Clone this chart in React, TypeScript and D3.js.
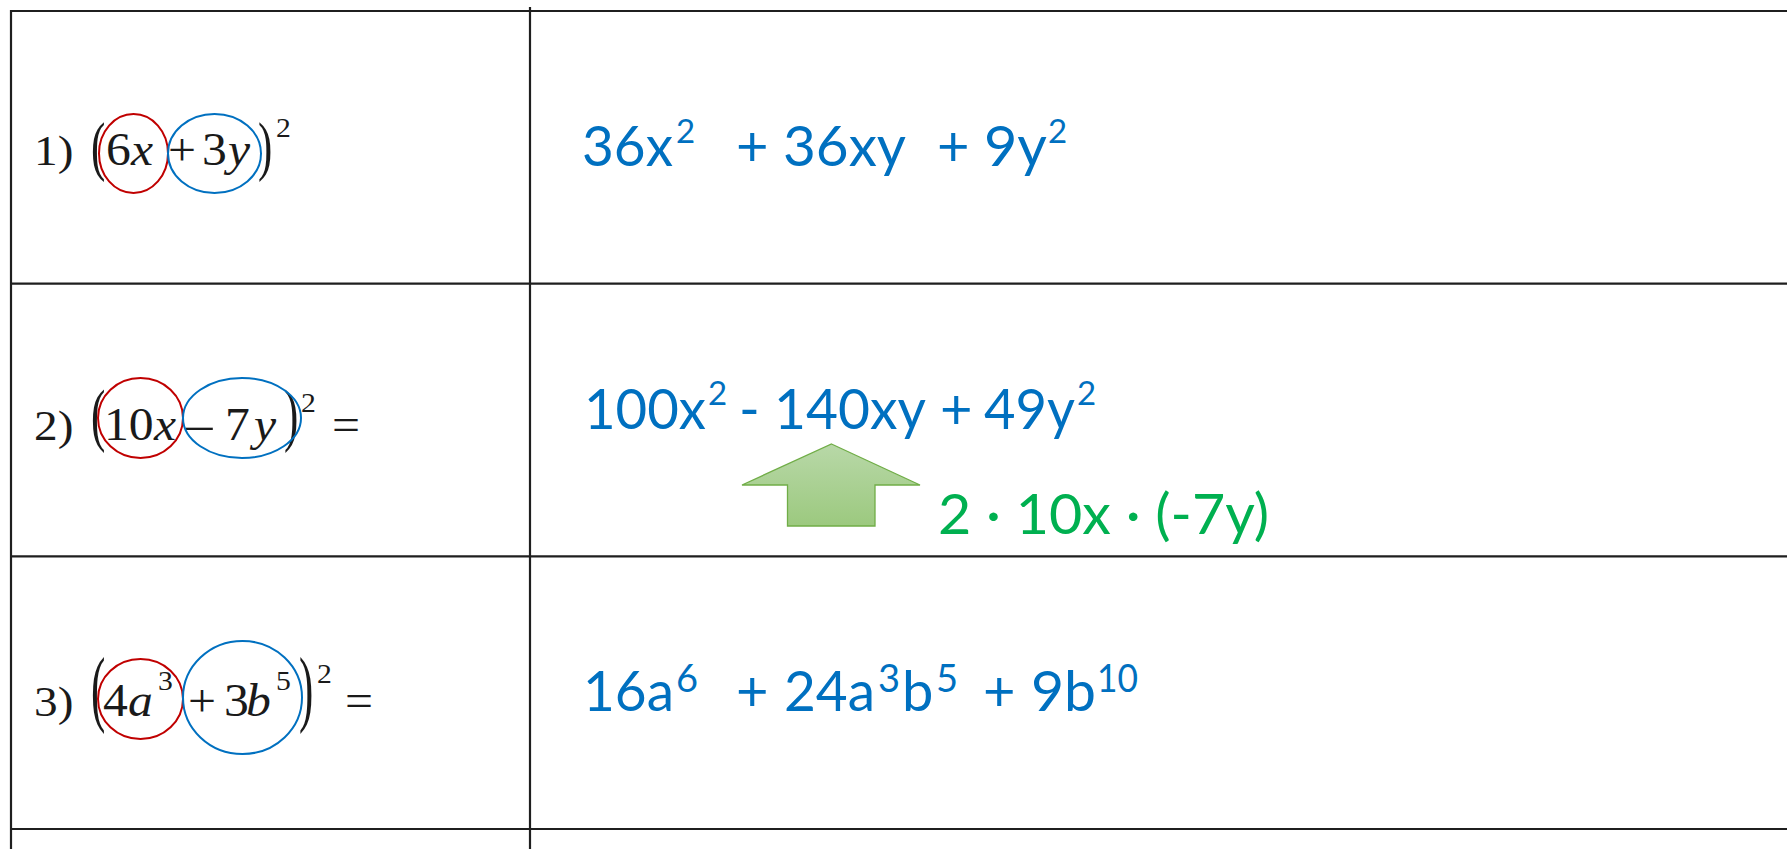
import React, { useEffect, useRef } from 'react';
import * as d3 from 'd3';

const W = 1787;
const H = 849;

// grid: 3 full rows plus the start of a 4th one at the bottom
const rowCount = 3;
const rowLines = [11, 829];
const colLines = [11, 530];

// left column, binomials glyph by glyph.
// k: l = label, n = upright, i = italic, s = superscript, p = tall paren, d = long minus
const leftBaselines = [165, 440, 716];
const binomial1 = [
  { t: '1)', x: 34, k: 'l' },
  { t: '(', x: 91, k: 'p', s: 1.53, dy: 2.5 },
  { t: '6', x: 106, k: 'n' },
  { t: 'x', x: 131, k: 'i' },
  { t: '+', x: 168, k: 'n' },
  { t: '3', x: 202, k: 'n' },
  { t: 'y', x: 228, k: 'i' },
  { t: ')', x: 258, k: 'p', s: 1.53, dy: 2.5 },
  { t: '2', x: 276, k: 's', dy: -28 },
];
const binomial2 = [
  { t: '2)', x: 34, k: 'l' },
  { t: '(', x: 91, k: 'p', s: 1.62, dy: -2 },
  { t: '10', x: 104, k: 'n' },
  { t: 'x', x: 154, k: 'i' },
  { t: '\u2013', x: 186, k: 'd' },
  { t: '7', x: 225, k: 'n' },
  { t: 'y', x: 254, k: 'i' },
  { t: ')', x: 284, k: 'p', s: 1.62, dy: -2 },
  { t: '2', x: 301, k: 's', dy: -28 },
  { t: '=', x: 332, k: 'n' },
];
const binomial3 = [
  { t: '3)', x: 34, k: 'l' },
  { t: '(', x: 91, k: 'p', s: 1.97, dy: 0 },
  { t: '4', x: 103, k: 'n' },
  { t: 'a', x: 128, k: 'i' },
  { t: '3', x: 158, k: 's', dy: -26 },
  { t: '+', x: 188, k: 'n' },
  { t: '3', x: 224, k: 'n' },
  { t: 'b', x: 246, k: 'i' },
  { t: '5', x: 276, k: 's', dy: -26 },
  { t: ')', x: 299, k: 'p', s: 1.97, dy: 0 },
  { t: '2', x: 317, k: 's', dy: -33 },
  { t: '=', x: 345, k: 'n' },
];
const binomials = [binomial1, binomial2, binomial3];

// the circled terms: first term red, second term blue  [cx, cy, rx, ry]
const firstTerms = [[133.5, 153.5, 34.5, 39.5], [140.5, 418, 42.5, 40], [140.5, 699, 42.5, 40]];
const secondTerms = [[214.5, 153.5, 46.5, 39.5], [242, 418, 59, 40], [242.5, 697.5, 59.5, 56.5]];

// right column, expanded results
const rightBaselines = [166, 429, 711];
const supSize = [33, 33, 38];
const supShift = [-23, -24, -19];
const result1 = [
  { t: '36x', x: 582, w: 91 },
  { t: '2', x: 676, sup: true },
  { t: '+', x: 736 },
  { t: '36xy', x: 783, w: 123 },
  { t: '+', x: 937 },
  { t: '9y', x: 984, w: 63 },
  { t: '2', x: 1048, sup: true },
];
const result2 = [
  { t: '100x', x: 584, w: 122 },
  { t: '2', x: 708, sup: true },
  { t: '-', x: 739 },
  { t: '140xy', x: 774, w: 152 },
  { t: '+', x: 940 },
  { t: '49y', x: 984, w: 91 },
  { t: '2', x: 1077, sup: true },
];
const result3 = [
  { t: '16a', x: 583, w: 91 },
  { t: '6', x: 676, sup: true },
  { t: '+', x: 736 },
  { t: '24a', x: 784, w: 91 },
  { t: '3', x: 878, sup: true },
  { t: 'b', x: 902 },
  { t: '5', x: 936, sup: true },
  { t: '+', x: 983 },
  { t: '9b', x: 1031, w: 65 },
  { t: '10', x: 1097, sup: true, w: 41 },
];
const results = [result1, result2, result3];

// hint for the middle term of problem 2
const hintText = '2 \u00b7 10x \u00b7 (-7y)';
const hintPos = { x: 938, y: 534, w: 331 };
const arrowPoints = [[831.5, 444], [920, 485], [875, 485], [875, 526], [787.5, 526], [787.5, 485], [742, 485]];

const glyphSize = { l: 43, n: 46, i: 46, d: 46, s: 27, p: 43 };
const glyphStretch = { l: 1.1, n: 1.08, i: 1.08, d: 1.15, s: 1.1, p: 1 };

const App = () => {
  const svgRef = useRef(null);

  useEffect(() => {
    document.body.style.margin = '0';
    document.body.style.overflow = 'hidden';

    const svg = d3.select(svgRef.current);
    svg.selectAll('*').remove();

    const y = d3.scaleLinear().domain([0, rowCount]).range(rowLines);

    // grid lines
    const grid = svg.append('g').attr('stroke', '#1f1f1f').attr('stroke-width', 2.2);
    d3.range(rowCount + 1).forEach(i => {
      grid.append('line')
        .attr('x1', colLines[0]).attr('x2', W)
        .attr('y1', y(i)).attr('y2', y(i));
    });
    grid.append('line')
      .attr('x1', colLines[0]).attr('x2', colLines[0])
      .attr('y1', y(0) - 1).attr('y2', H);
    grid.append('line')
      .attr('x1', colLines[1]).attr('x2', colLines[1])
      .attr('y1', y(0) - 4).attr('y2', H);

    // binomials (the scanned math is a bit wider than plain Times, so stretch x)
    binomials.forEach((glyphs, r) => {
      const base = leftBaselines[r];
      const g = svg.append('g')
        .attr('font-family', '"Liberation Serif", "Times New Roman", serif')
        .attr('fill', '#1a1a1a');
      glyphs.forEach(d => {
        const yy = d.k === 's' || d.k === 'p' ? base + d.dy : base;
        const sy = d.k === 'p' ? d.s : 1;
        g.append('text')
          .attr('transform', `translate(${d.x},${yy}) scale(${glyphStretch[d.k]},${sy})`)
          .attr('font-size', glyphSize[d.k])
          .attr('font-style', d.k === 'i' ? 'italic' : 'normal')
          .text(d.t);
      });
    });

    // circles around the two terms
    const ell = svg.append('g').attr('fill', 'none').attr('stroke-width', 2);
    ell.selectAll('.first').data(firstTerms).enter().append('ellipse')
      .attr('cx', d => d[0]).attr('cy', d => d[1]).attr('rx', d => d[2]).attr('ry', d => d[3])
      .attr('stroke', '#C00000');
    ell.selectAll('.second').data(secondTerms).enter().append('ellipse')
      .attr('cx', d => d[0]).attr('cy', d => d[1]).attr('rx', d => d[2]).attr('ry', d => d[3])
      .attr('stroke', '#0070C0');

    // expanded results
    results.forEach((segs, r) => {
      const base = rightBaselines[r];
      const g = svg.append('g')
        .attr('font-family', 'Lato, "Open Sans", sans-serif')
        .attr('fill', '#0070C0');
      segs.forEach(d => {
        const t = g.append('text')
          .attr('x', d.x)
          .attr('y', d.sup ? base + supShift[r] : base)
          .attr('font-size', d.sup ? supSize[r] : 56)
          .text(d.t);
        if (d.w) t.attr('textLength', d.w).attr('lengthAdjust', 'spacingAndGlyphs');
      });
    });

    // arrow + hint
    const defs = svg.append('defs');
    const grad = defs.append('linearGradient')
      .attr('id', 'arrow-fill')
      .attr('x1', '0%').attr('x2', '0%').attr('y1', '0%').attr('y2', '100%');
    grad.append('stop').attr('offset', '0%').attr('stop-color', '#b8d8a8');
    grad.append('stop').attr('offset', '100%').attr('stop-color', '#9cc97f');

    svg.append('path')
      .attr('d', d3.line()(arrowPoints) + 'Z')
      .attr('fill', 'url(#arrow-fill)')
      .attr('stroke', '#70AD47')
      .attr('stroke-width', 1.3)
      .attr('stroke-linejoin', 'miter');

    svg.append('text')
      .attr('x', hintPos.x)
      .attr('y', hintPos.y)
      .attr('font-family', 'Lato, "Open Sans", sans-serif')
      .attr('font-size', 56)
      .attr('fill', '#00B050')
      .attr('textLength', hintPos.w)
      .attr('lengthAdjust', 'spacingAndGlyphs')
      .text(hintText);
  }, []);

  return (
    <div style={{ width: W, height: H, background: '#fff' }}>
      <svg ref={svgRef} width={W} height={H} style={{ display: 'block', background: '#fff' }} />
    </div>
  );
};

export default App;
